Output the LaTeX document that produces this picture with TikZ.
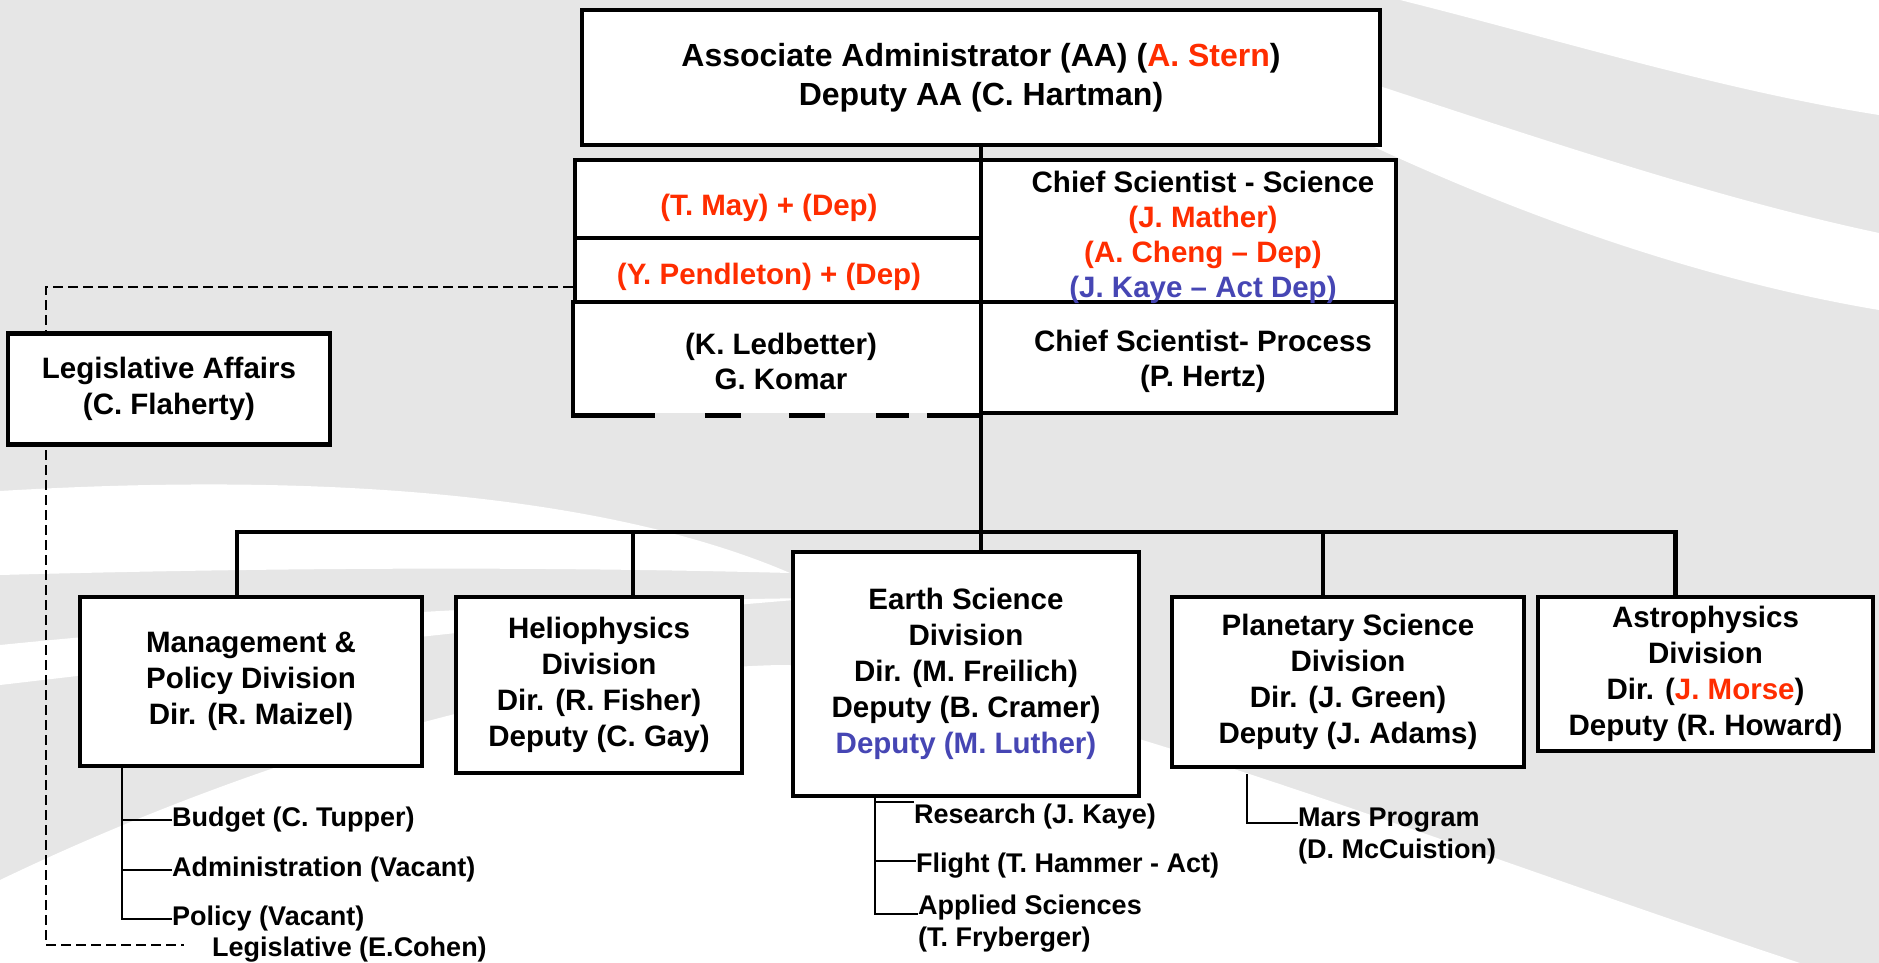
\documentclass[tikz,border=0pt]{standalone}
\usepackage{fontspec}
\setmainfont{Liberation Sans}
\usetikzlibrary{calc}
\definecolor{bggray}{RGB}{230,230,230}
\definecolor{namered}{RGB}{255,45,0}
\definecolor{nameblue}{RGB}{70,70,180}

\begin{document}
\begin{tikzpicture}[x=1pt,y=-1pt,line join=miter,
  box/.style={draw,line width=4.5pt,fill=white,inner sep=0pt,align=center,
    font=\fontsize{29.5}{36}\selectfont\bfseries},
  cell/.style={draw,line width=4.5pt,fill=white,inner sep=0pt},
  celltext/.style={inner sep=0pt,align=center,font=\fontsize{29.5}{35}\selectfont\bfseries},
  bar/.style={line width=4.5pt},
  twig/.style={line width=2pt},
  leader/.style={line width=1.8pt,dash pattern=on 10pt off 5pt},
  item/.style={anchor=west,inner sep=0pt,align=left,
    font=\fontsize{27}{32}\selectfont\bfseries}]

  \useasboundingbox (0,0) rectangle (1879,963);
  \fill[bggray] (0,0) rectangle (1879,963);
  \fill[white] (1400,0) .. controls (1560,40) and (1720,90) .. (1879,115) -- (1879,0) -- cycle;
  \fill[white] (1300,60) .. controls (1500,125) and (1700,195) .. (1879,233)
    -- (1879,310) .. controls (1700,280) and (1520,215) .. (1370,145) -- cycle;
  \fill[white] (0,491) .. controls (350,470) and (620,500) .. (790,573)
    .. controls (520,566) and (260,568) .. (0,575) -- cycle;
  \fill[white] (0,645) .. controls (300,615) and (600,600) .. (820,598)
    .. controls (600,615) and (300,650) .. (0,685) -- cycle;
  \fill[white] (0,880) .. controls (250,760) and (550,670) .. (780,665)
    .. controls (1000,668) and (1400,830) .. (1800,963) -- (0,963) -- cycle;

  \node[box,minimum width=798pt,minimum height=135pt,font=\fontsize{32}{39}\selectfont\bfseries]
    (aa) at (981,77.5) {Associate Administrator (AA) (\textcolor{namered}{A. Stern})\\Deputy AA (C. Hartman)};

  \node[cell,draw=none,minimum width=406pt,minimum height=111pt] (komar) at (778,357.5) {};
  \node[cell,minimum width=406pt,minimum height=78pt] (tmay) at (778,199) {};
  \node[cell,minimum width=406pt,minimum height=64pt] (pend) at (778,270) {};
  \node[cell,minimum width=415pt,minimum height=142pt] (chief) at (1188.5,231) {};
  \node[cell,minimum width=415pt,minimum height=111pt] (proc) at (1188.5,357.5) {};
  \draw[bar] (komar.north west) -- (komar.south west) -- ([xshift=82pt]komar.south west);
  \foreach \a/\b in {132/168,216/252,303/336}
    \draw[bar] ([xshift=\a pt]komar.south west) -- ([xshift=\b pt]komar.south west);
  \draw[bar] ([xshift=354pt]komar.south west) -- (komar.south east);

  \node[celltext,text=namered] (tmaytext) at (769,208) {(T. May) + (Dep)};
  \node[celltext,text=namered] (pendtext) at (769,277) {(Y. Pendleton) + (Dep)};
  \node[celltext] (komartext) at (781,361) {(K. Ledbetter)\\G. Komar};
  \node[celltext] (chieftext) at (1203,237)
    {Chief Scientist - Science\\\textcolor{namered}{(J. Mather)}\\\textcolor{namered}{(A. Cheng – Dep)}\\\textcolor{nameblue}{(J. Kaye – Act Dep)}};
  \node[celltext] (proctext) at (1203,361.5) {Chief Scientist- Process\\(P. Hertz)};

  \coordinate (lbend) at (46,287);
  \coordinate (lend) at (184,945);
  \draw[leader] ([yshift=-17pt]pend.west) -- (lbend) |- (lend);
  \node[box,minimum width=322pt,minimum height=111pt] (legis) at (169,389)
    {Legislative Affairs\\(C. Flaherty)};

  \node[box,minimum width=342pt,minimum height=169pt] (mgmt) at (251,681.5)
    {Management \&\\Policy Division\\Dir. (R. Maizel)};
  \node[box,minimum width=286pt,minimum height=176pt] (helio) at (599,685)
    {Heliophysics\\Division\\Dir. (R. Fisher)\\Deputy (C. Gay)};
  \node[box,minimum width=346pt,minimum height=244pt] (earth) at (966,674)
    {Earth Science\\Division\\Dir. (M. Freilich)\\Deputy (B. Cramer)\\\textcolor{nameblue}{Deputy (M. Luther)}};
  \node[box,minimum width=352pt,minimum height=170pt] (planet) at (1348,682)
    {Planetary Science\\Division\\Dir. (J. Green)\\Deputy (J. Adams)};
  \node[box,minimum width=335pt,minimum height=154pt] (astro) at (1705.5,674)
    {Astrophysics\\Division\\Dir. (\textcolor{namered}{J. Morse})\\Deputy (R. Howard)};

  \coordinate (bus) at (981,532);
  \draw[bar] (aa.south) -- (aa.south |- earth.north);
  \draw[bar] ([xshift=-14pt]mgmt.north) |- (bus);
  \draw[bar] ([xshift=34pt]helio.north) |- (bus);
  \draw[bar] ([xshift=-25pt]planet.north) |- (bus);
  \draw[bar] ([xshift=-30pt]astro.north) |- (bus);

  \node[item] (budget) at (172,820) {Budget (C. Tupper)};
  \node[item] (admin) at (172,870) {Administration (Vacant)};
  \node[item] (policy) at (172,919) {Policy (Vacant)};
  \node[item] (cohen) at (212,950) {Legislative (E.Cohen)};
  \draw[twig] ([xshift=-129pt]mgmt.south) |- (budget.west);
  \draw[twig] ([xshift=-129pt]mgmt.south) |- (admin.west);
  \draw[twig] ([xshift=-129pt]mgmt.south) |- (policy.west);

  \node[item] (research) at (914,816.5) {Research (J. Kaye)};
  \node[item] (flight) at (916,865.5) {Flight (T. Hammer - Act)};
  \node[item] (applied) at (918,923.5) {Applied Sciences\\(T. Fryberger)};
  \draw[twig] ([xshift=-91pt]earth.south) |- ([yshift=14.5pt]research.west);
  \draw[twig] ([xshift=-91pt]earth.south) |- ([yshift=4.5pt]flight.west);
  \draw[twig] ([xshift=-91pt]earth.south) |- ([yshift=9.5pt]applied.west);

  \node[item] (mars) at (1298,836) {Mars Program\\(D. McCuistion)};
  \draw[twig] ([xshift=-101pt,yshift=-5pt]planet.south) |- ([yshift=13pt]mars.west);
\end{tikzpicture}
\end{document}
